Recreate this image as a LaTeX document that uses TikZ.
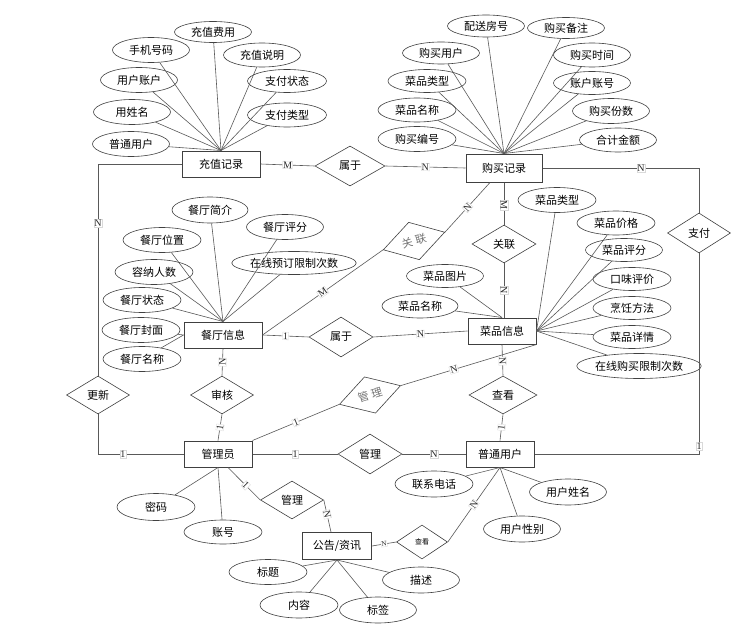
\documentclass[tikz,border=0pt]{standalone}
\usepackage{fontspec}
\setmainfont{Liberation Serif}
\newfontfamily\cjk{Noto Sans CJK SC}
\usetikzlibrary{shapes.geometric,calc}
\begin{document}
\begin{tikzpicture}[x=1pt,y=-1pt,
  ent/.style={draw=black!75,line width=1pt,rectangle,minimum width=70,minimum height=26,inner sep=0,font=\cjk\fontsize{11}{13}\selectfont},
  attr/.style={draw=black!75,line width=0.6pt,ellipse,minimum width=77,minimum height=24,inner sep=0,font=\cjk\fontsize{11}{13}\selectfont},
  rel/.style={draw=black!75,line width=0.6pt,diamond,minimum width=64,minimum height=38,inner sep=0,font=\cjk\fontsize{11}{13}\selectfont},
  conn/.style={draw=black!65,line width=0.6pt},
  lab/.style={fill=white,draw=black!15,line width=0.3pt,inner sep=0.5pt,font=\fontsize{10}{10}\selectfont,text=black!85},
]
\fill[white] (0,0) rectangle (748,642);
\useasboundingbox (0,0) rectangle (748,642);

% entities
\node[ent,minimum width=78] (cz) at (221,164) {充值记录};
\node[ent,minimum width=76,minimum height=28] (gmjl) at (504,168) {购买记录};
\node[ent,minimum width=78] (ct) at (223,335) {餐厅信息};
\node[ent,minimum width=68] (cp) at (502,331) {菜品信息};
\node[ent,minimum width=68] (gly) at (218,454) {管理员};
\node[ent,minimum width=68] (yh) at (500,454) {普通用户};
\node[ent,minimum width=69,minimum height=27] (gg) at (337,546) {公告/资讯};

% relations
\node[rel,minimum width=70,minimum height=40] (sy1) at (350,166) {属于};
\node[rel,minimum width=63,minimum height=40] (zf) at (699,233) {支付};
\node[rel] (gl1) at (504,244) {关联};
\node[rel,minimum height=39,rotate=16,text=black!55] (gl2) at (414,241) {关\hspace{3pt}联};
\node[rel,minimum height=40] (sy2) at (341,337) {属于};
\node[rel,rotate=17,text=black!55] (gm3) at (370,395) {管\hspace{3pt}理};
\node[rel,minimum width=63] (sh) at (222,395) {审核};
\node[rel,minimum width=63] (gx) at (98,395) {更新};
\node[rel,minimum width=68] (ck1) at (503,395) {查看};
\node[rel,minimum height=40] (gm1) at (370,454) {管理};
\node[rel,minimum width=63] (gm2) at (292,500) {管理};
\node[rel,minimum width=51,minimum height=34,font=\cjk\fontsize{7}{8}\selectfont] (ck2) at (422,542) {查看};

% attributes of 充值记录
\node[attr,minimum height=21] (a1) at (213,32) {充值费用};
\node[attr,minimum height=25] (a2) at (151,50) {手机号码};
\node[attr] (a3) at (262,55) {充值说明};
\node[attr,minimum height=25] (a4) at (139,80) {用户账户};
\node[attr,minimum width=79,minimum height=23] (a5) at (287,81) {支付状态};
\node[attr,minimum height=25] (a6) at (132,112) {用姓名};
\node[attr,minimum width=79] (a7) at (287,115) {支付类型};
\node[attr,minimum height=25] (a8) at (131,144) {普通用户};
\foreach \a in {a1,a2,a3,a4,a5,a6,a7,a8} \draw[conn] (cz.north) -- (\a);

% attributes of 购买记录
\node[attr,minimum height=22] (b1) at (486,26) {配送房号};
\node[attr,minimum height=21] (b2) at (566,28) {购买备注};
\node[attr,minimum height=22] (b3) at (441,53) {购买用户};
\node[attr] (b4) at (592,55) {购买时间};
\node[attr,minimum width=78,minimum height=23] (b5) at (427,81) {菜品类型};
\node[attr,minimum height=23] (b6) at (592,83) {账户账号};
\node[attr,minimum width=78] (b7) at (417,110) {菜品名称};
\node[attr,minimum height=25] (b8) at (611,111) {购买份数};
\node[attr,minimum width=78,minimum height=25] (b9) at (417,139) {购买编号};
\node[attr] (b10) at (618,140) {合计金额};
\foreach \a in {b1,b2,b3,b4,b5,b6,b7,b8,b9,b10} \draw[conn] (gmjl.north) -- (\a);

% attributes of 餐厅信息
\node[attr,minimum width=76,minimum height=26] (c1) at (210,210) {餐厅简介};
\node[attr,minimum height=25] (c2) at (285,227) {餐厅评分};
\node[attr,minimum width=78,minimum height=25] (c3) at (162,240) {餐厅位置};
\node[attr,minimum width=93,minimum height=23] (c4) at (294,263) {在线预订限制次数};
\node[attr,minimum width=78,minimum height=25] (c5) at (154,272) {容纳人数};
\node[attr,minimum width=78,minimum height=25] (c6) at (142,300) {餐厅状态};
\node[attr,minimum width=78,minimum height=25] (c7) at (141,330) {餐厅封面};
\node[attr,minimum width=78,minimum height=25] (c8) at (142,359) {餐厅名称};
\foreach \a in {c1,c2,c3,c4,c5,c6} \draw[conn] (ct.north) -- (\a);
\foreach \a in {c7,c8} \draw[conn] (ct.west) -- (\a);

% attributes of 菜品信息
\node[attr,minimum width=78,minimum height=25] (d1) at (557,200) {菜品类型};
\node[attr,minimum width=78] (d2) at (616,223) {菜品价格};
\node[attr,minimum height=23] (d3) at (624,250) {菜品评分};
\node[attr,minimum width=78,minimum height=23] (d4) at (632,279) {口味评价};
\node[attr,minimum width=78,minimum height=23] (d5) at (632,308) {烹饪方法};
\node[attr,minimum width=78,minimum height=23] (d6) at (632,337) {菜品详情};
\node[attr,minimum width=94,minimum height=25] (d7) at (639,366) {在线购买限制次数};
\node[attr,minimum height=23] (d8) at (445,276) {菜品图片};
\node[attr,minimum width=76] (d9) at (420,306) {菜品名称};
\foreach \a in {d1,d2,d3,d4,d5,d6,d7} \draw[conn] (cp.east) -- (\a);
\foreach \a in {d8,d9} \draw[conn] (cp.north) -- (\a);

% attributes of 普通用户
\node[attr,minimum width=78,minimum height=26] (e1) at (434,484) {联系电话};
\node[attr,minimum height=26] (e2) at (568,492) {用户姓名};
\node[attr,minimum height=26] (e3) at (522,529) {用户性别};
\foreach \a in {e1,e2,e3} \draw[conn] (yh.south) -- (\a);

% attributes of 管理员
\node[attr,minimum width=78,minimum height=27] (f1) at (156,507) {密码};
\node[attr,minimum width=78] (f2) at (223,532) {账号};
\foreach \a in {f1,f2} \draw[conn] (gly.south) -- (\a);

% attributes of 公告/资讯
\node[attr,minimum width=78,minimum height=25] (g1) at (268,572) {标题};
\node[attr,minimum height=26] (g2) at (421,580) {描述};
\node[attr,minimum width=78,minimum height=26] (g3) at (299,605) {内容};
\node[attr,minimum height=26] (g4) at (378,610) {标签};
\foreach \a in {g1,g2,g3,g4} \draw[conn] (gg.south) -- (\a);

% relationship connectors
\draw[conn] (cz.east) -- node[lab,sloped] {M} (sy1.west);
\draw[conn] (sy1.east) -- node[lab,sloped] {N} (gmjl.west);
\draw[conn] (gmjl.east) -| node[lab,pos=0.315] {N} (zf.north);
\draw[conn] (zf.south) |- node[lab,pos=0.48] {1} (yh.east);
\draw[conn] (gx.north) |- node[lab,pos=0.36] {N} (cz.west);
\draw[conn] (gx.south) |- node[lab,pos=0.645] {1} (gly.west);
\draw[conn] (gmjl.south) -- node[lab,sloped,pos=0.53] {M} (gl1.north);
\draw[conn] (gl1.south) -- node[lab,sloped] {N} ($(cp.north)+(2,0)$);
\draw[conn] (ct.east) -- node[lab,sloped] {1} (sy2.west);
\draw[conn] (sy2.east) -- node[lab,sloped] {N} (cp.west);
\draw[conn] (cp.south) -- node[lab,sloped,pos=0.53] {N} (ck1.north);
\draw[conn] (ck1.south) -- node[lab,sloped] {1} (yh.north);
\draw[conn] (ct.south) -- node[lab,sloped] {N} (sh.north);
\draw[conn] (sh.south) -- node[lab,sloped] {1} (gly.north);
\draw[conn] (gly.east) -- node[lab,sloped] {1} (gm1.west);
\draw[conn] (gm1.east) -- node[lab,sloped] {N} (yh.west);
\draw[conn] (ct.east) -- node[lab,sloped] {M} (gl2.west);
\draw[conn] (gl2.east) -- node[lab,sloped] {N} ($(gmjl.south)+(-14,0)$);
\draw[conn] ($(gly.south)+(10,0)$) -- node[lab,sloped,pos=0.55] {1} (gm2.west);
\draw[conn] (gm2.east) -- node[lab,sloped,pos=0.45] {N} ($(gg.north)+(-6,0)$);
\draw[conn] (gg.east) -- node[lab,sloped,font=\fontsize{7}{7}\selectfont] {N} (ck2.west);
\draw[conn] (ck2.east) -- node[lab,sloped] {N} (yh.south);
\draw[conn] (gly.north east) -- node[lab,sloped] {1} (gm3.west);
\draw[conn] (gm3.east) -- node[lab,sloped,pos=0.39] {N} (cp.south east);
\end{tikzpicture}
\end{document}
